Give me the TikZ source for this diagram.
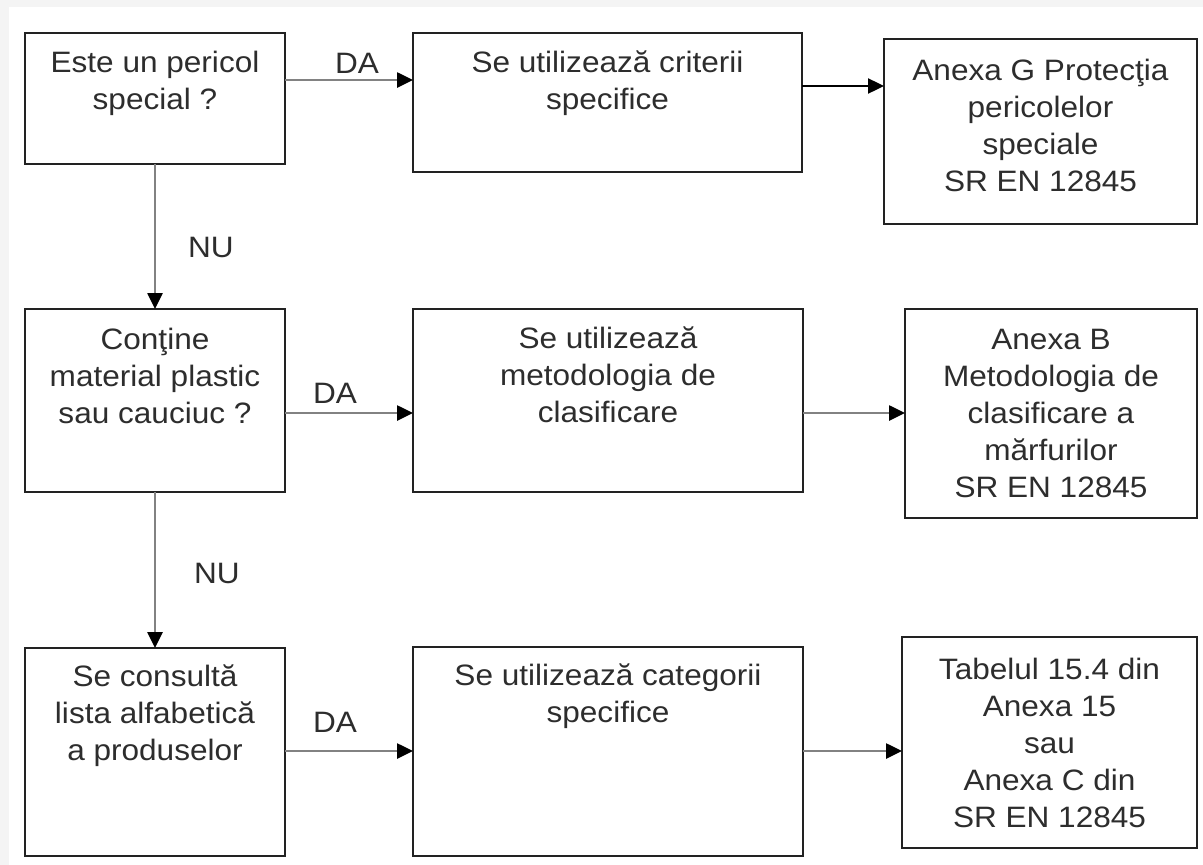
\documentclass[tikz,border=0pt]{standalone}
\usepackage{fontspec}
\setmainfont[FakeStretch=1.07]{Liberation Sans}
\usetikzlibrary{arrows.meta,calc}
\definecolor{bgframe}{RGB}{244,244,244}
\definecolor{frameline}{RGB}{34,34,34}
\definecolor{txtcol}{RGB}{45,45,45}
\definecolor{linegray}{RGB}{130,130,130}
\begin{document}
\begin{tikzpicture}[x=1pt,y=-1pt,
  boxframe/.style={draw=frameline, line width=2.4pt, fill=white, rectangle, inner sep=0pt, outer sep=0pt},
  toptext/.style={anchor=north, align=center, inner sep=0pt, text=txtcol, font=\fontsize{29.5}{37}\selectfont},
  midtext/.style={anchor=center, align=center, inner sep=0pt, text=txtcol, font=\fontsize{29.5}{37}\selectfont},
  lbl/.style={anchor=center, inner sep=0pt, text=txtcol, font=\fontsize{29.5}{37}\selectfont},
  garrow/.style={draw=linegray, line width=2.6pt, -{Triangle[length=16pt,width=15pt,color=black]}},
  karrow/.style={draw=black, line width=2.4pt, -{Triangle[length=16pt,width=15pt,color=black]}}]
\useasboundingbox (0,0) rectangle (1203,865);
\fill[bgframe] (0,0) rectangle (1203,865);
\fill[white] (9,7) rectangle (1203,865);

% row 1
\node[boxframe, minimum width=260pt, minimum height=131pt] (a1) at (155,98.5) {};
\node[boxframe, minimum width=389pt, minimum height=139pt] (a2) at (607.5,102.5) {};
\node[boxframe, minimum width=313pt, minimum height=185pt] (a3) at (1040.5,131.5) {};
% row 2
\node[boxframe, minimum width=260pt, minimum height=183pt] (b1) at (155,400.5) {};
\node[boxframe, minimum width=390pt, minimum height=183pt] (b2) at (608,400.5) {};
\node[boxframe, minimum width=292pt, minimum height=209pt] (b3) at (1051,413.5) {};
% row 3
\node[boxframe, minimum width=260pt, minimum height=208pt] (c1) at (155,752) {};
\node[boxframe, minimum width=390pt, minimum height=209pt] (c2) at (608,751.5) {};
\node[boxframe, minimum width=295pt, minimum height=211pt] (c3) at (1049.5,742.5) {};

% texts
\node[toptext] (a1t) at ([yshift=-18pt]a1.north) {Este un pericol\\special ?};
\node[toptext] (a2t) at ([yshift=-18pt]a2.north) {Se utilizează criterii\\specifice};
\node[midtext] (a3t) at ([yshift=6pt]a3.center) {Anexa G Protecţia\\pericolelor\\speciale\\SR EN 12845};
\node[toptext] (b1t) at ([yshift=-19pt]b1.north) {Conţine\\material plastic\\sau cauciuc ?};
\node[toptext] (b2t) at ([yshift=-18pt]b2.north) {Se utilizează\\metodologia de\\clasificare};
\node[midtext] (b3t) at (b3.center) {Anexa B\\Metodologia de\\clasificare a\\mărfurilor\\SR EN 12845};
\node[toptext] (c1t) at ([yshift=-17pt]c1.north) {Se consultă\\lista alfabetică\\a produselor};
\node[toptext] (c2t) at ([yshift=-17pt]c2.north) {Se utilizează categorii\\specifice};
\node[midtext] (c3t) at (c3.center) {Tabelul 15.4 din\\Anexa 15\\sau\\Anexa C din\\SR EN 12845};

% connector anchor points
\coordinate (r1) at ([yshift=-47pt]a1.north east);
\coordinate (r1b) at ([yshift=-53pt]a2.north east);
\coordinate (r2) at ([yshift=-104pt]b1.north east);
\coordinate (r3) at ([yshift=-103pt]c1.north east);

% connectors
\draw[garrow] (r1) -- (r1 -| a2.west);
\draw[karrow] (r1b) -- (r1b -| a3.west);
\draw[garrow] (r2) -- (r2 -| b2.west);
\draw[garrow] (r2 -| b2.east) -- (r2 -| b3.west);
\draw[garrow] (r3) -- (r3 -| c2.west);
\draw[garrow] (r3 -| c2.east) -- (r3 -| c3.west);
\draw[garrow] (a1.south) -- (b1.north);
\draw[garrow] (b1.south) -- (c1.north);

% labels
\node[lbl] (da1) at (357,63) {DA};
\node[lbl] (da2) at (335,393) {DA};
\node[lbl] (da3) at (335,722) {DA};
\node[lbl] (nu1) at (211,247) {NU};
\node[lbl] (nu2) at (217,573) {NU};
\end{tikzpicture}
\end{document}
